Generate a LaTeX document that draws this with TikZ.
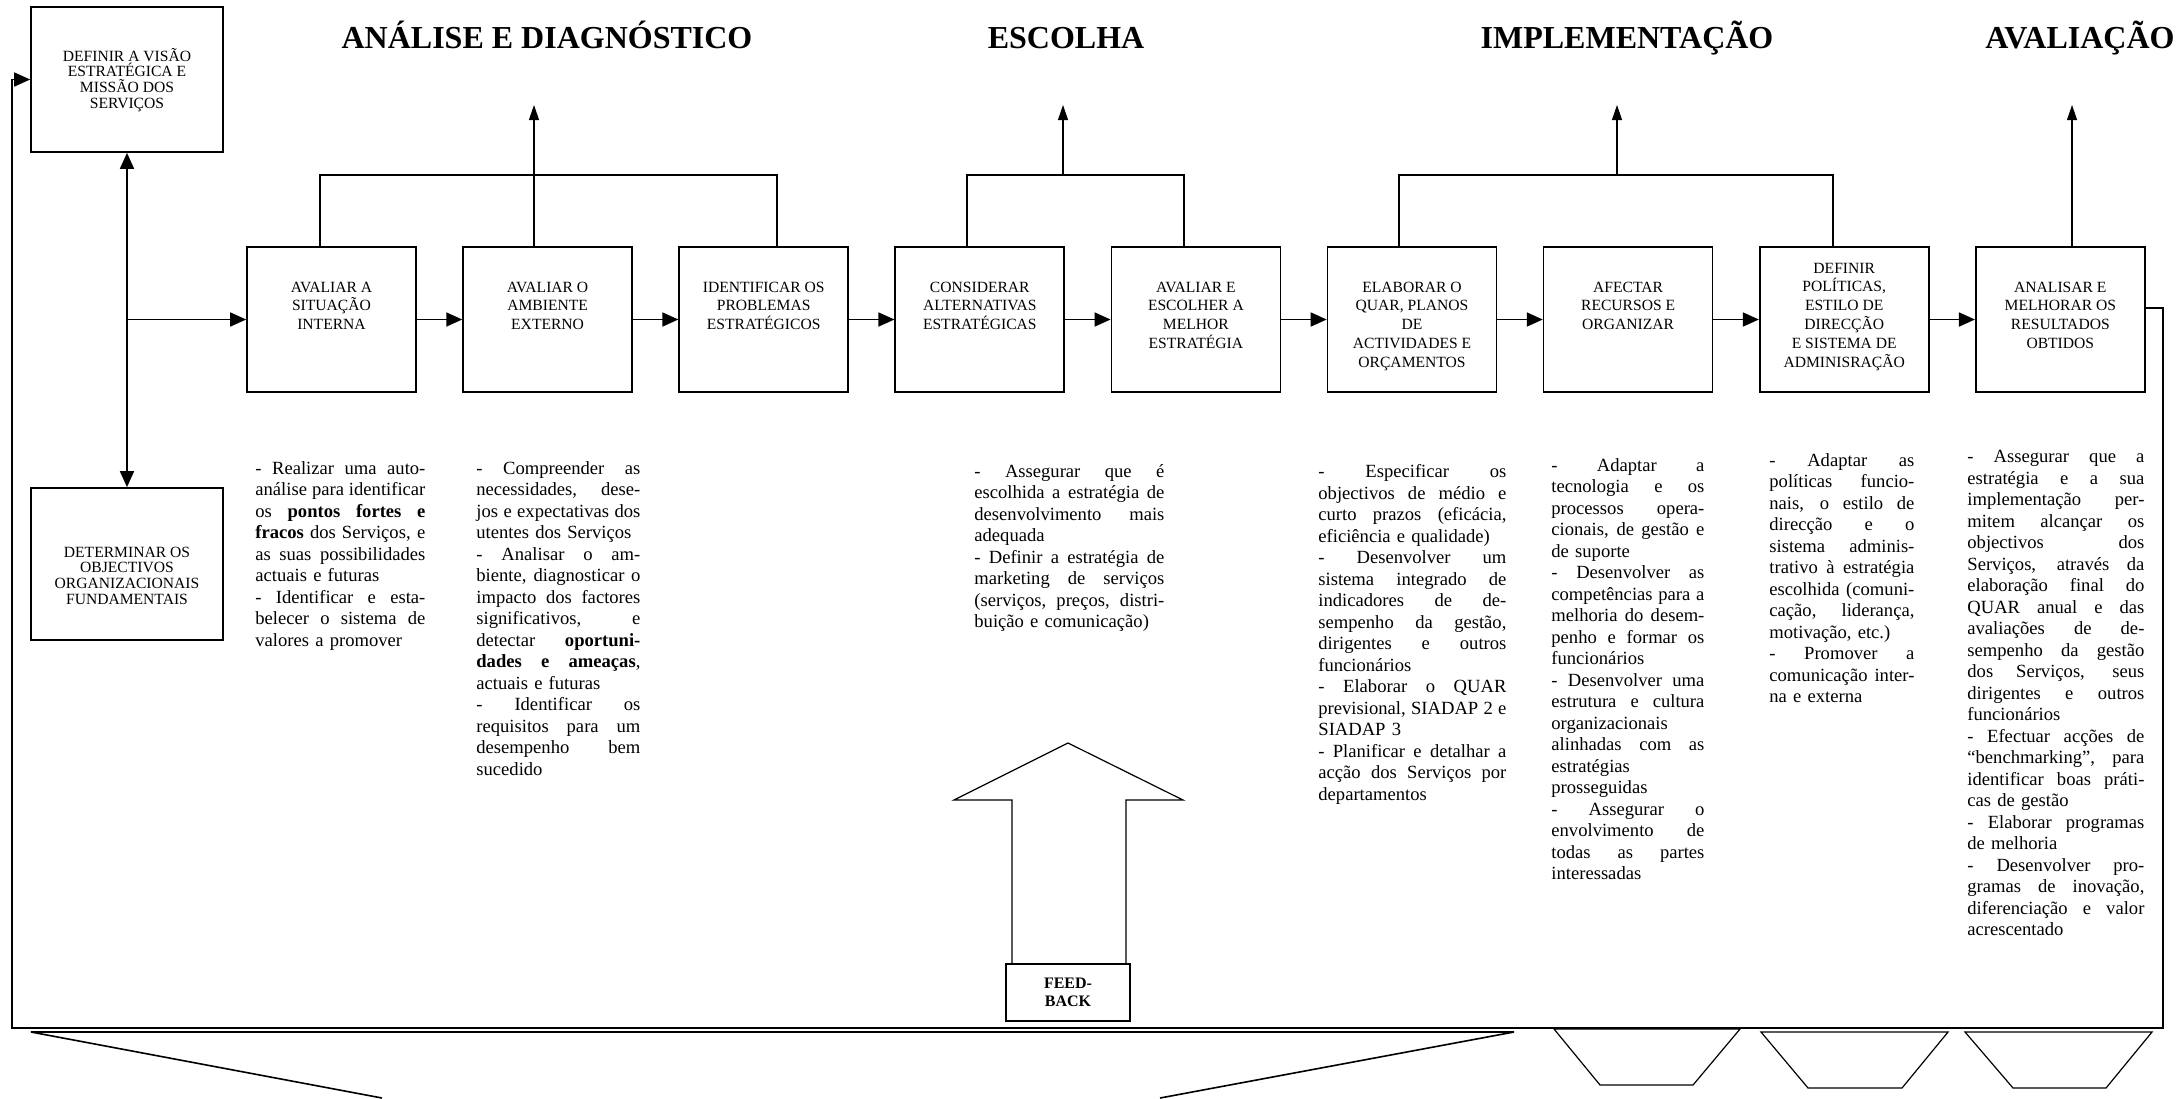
\documentclass[tikz,border=0pt]{standalone}
\usepackage{fontspec}
\setmainfont{Liberation Serif}
\usetikzlibrary{arrows.meta}
\setlength{\parindent}{0pt}
% one justified line / one last line of a paragraph
\newcommand{\jline}[1]{\hbox to\linewidth{\spaceskip=0.25em plus 1fil\xspaceskip=0.25em plus 1fil\relax #1}}
\newcommand{\eline}[1]{\hbox{#1}}
% box text: width, height, first baseline, text
\newcommand{\inbox}[4]{\parbox[c][#2][t]{#1}{\centering\rule{0pt}{#3}#4\par}}
\tikzset{
 stage/.style={draw,line width=0.85pt,inner sep=0pt,font=\fontsize{7.8}{9.4}\selectfont},
 aim/.style={draw,line width=0.85pt,inner sep=0pt,font=\fontsize{7.8}{7.9}\selectfont},
 col/.style={inner sep=0pt,anchor=north west,font=\fontsize{9.3}{10.75}\selectfont},
 phasetitle/.style={anchor=base,inner sep=0pt,font=\bfseries\fontsize{16}{19}\selectfont},
 arr/.style={line width=0.85pt,-{Triangle[length=8pt,width=7pt]}},
 uparr/.style={line width=0.55pt,-{Triangle[length=7.5pt,width=5pt]}},
 bracket/.style={line width=0.6pt}
}
\begin{document}
\begin{tikzpicture}[x=0.5pt,y=-0.5pt]
 \useasboundingbox (0,0) rectangle (2177,1098);
 % phases
 \node[phasetitle] (t1) at (547,48) {ANÁLISE E DIAGNÓSTICO};
 \node[phasetitle] (t2) at (1066,48) {ESCOLHA};
 \node[phasetitle] (t3) at (1627,48) {IMPLEMENTAÇÃO};
 \node[phasetitle] (t4) at (2080,48) {AVALIAÇÃO};
 % left boxes
 \node[aim] (visao) at (127,79.5) {\inbox{96pt}{72.5pt}{27pt}{DEFINIR A VISÃO\\ESTRATÉGICA E\\MISSÃO DOS\\SERVIÇOS}};
 \node[aim] (objectivos) at (127,564) {\inbox{96pt}{76pt}{34.5pt}{DETERMINAR OS\\OBJECTIVOS\\ORGANIZACIONAIS\\FUNDAMENTAIS}};
 % main row
 \node[stage] (b1) at (331.5,319.5) {\inbox{84.5pt}{72.5pt}{22.5pt}{AVALIAR A\\SITUAÇÃO\\INTERNA}};
 \node[stage] (b2) at (547.6,319.5) {\inbox{84.5pt}{72.5pt}{22.5pt}{AVALIAR O\\AMBIENTE\\EXTERNO}};
 \node[stage] (b3) at (763.7,319.5) {\inbox{84.5pt}{72.5pt}{22.5pt}{IDENTIFICAR OS\\PROBLEMAS\\ESTRATÉGICOS}};
 \node[stage] (b4) at (979.8,319.5) {\inbox{84.5pt}{72.5pt}{22.5pt}{CONSIDERAR\\ALTERNATIVAS\\ESTRATÉGICAS}};
 \node[stage] (b5) at (1195.9,319.5) {\inbox{84.5pt}{72.5pt}{22.5pt}{AVALIAR E\\ESCOLHER A\\MELHOR\\ESTRATÉGIA}};
 \node[stage] (b6) at (1412,319.5) {\inbox{84.5pt}{72.5pt}{22.5pt}{ELABORAR O\\QUAR, PLANOS\\DE\\ACTIVIDADES E\\ORÇAMENTOS}};
 \node[stage] (b7) at (1628.1,319.5) {\inbox{84.5pt}{72.5pt}{22.5pt}{AFECTAR\\RECURSOS E\\ORGANIZAR}};
 \node[stage] (b8) at (1844.2,319.5) {\inbox{84.5pt}{72.5pt}{13pt}{DEFINIR\\POLÍTICAS,\\ESTILO DE\\DIRECÇÃO\\E SISTEMA DE\\ADMINISRAÇÃO}};
 \node[stage] (b9) at (2060.3,319.5) {\inbox{84.5pt}{72.5pt}{22.5pt}{ANALISAR E\\MELHORAR OS\\RESULTADOS\\OBTIDOS}};
 % flow
 \draw[line width=0.85pt,{Triangle[length=8pt,width=7pt]}-{Triangle[length=8pt,width=7pt]}] (visao) -- (objectivos);
 \draw[arr] (visao.south |- b1.west) -- (b1.west);
 \draw[arr] (b1) -- (b2);
 \draw[arr] (b2) -- (b3);
 \draw[arr] (b3) -- (b4);
 \draw[arr] (b4) -- (b5);
 \draw[arr] (b5) -- (b6);
 \draw[arr] (b6) -- (b7);
 \draw[arr] (b7) -- (b8);
 \draw[arr] (b8) -- (b9);
 % brackets to the phases
 \coordinate (ad1) at (320,175);
 \coordinate (ad2) at (777,175);
 \coordinate (ad) at (534,105);
 \draw[bracket] (b1.north -| ad1) -- (ad1) -- (ad2) -- (b3.north -| ad2);
 \draw[uparr] (b2.north -| ad) -- (ad);
 \coordinate (es1) at (967,175);
 \coordinate (es2) at (1184,175);
 \coordinate (es) at (1063,105);
 \draw[bracket] (b4.north -| es1) -- (es1) -- (es2) -- (b5.north -| es2);
 \draw[uparr] (es |- es1) -- (es);
 \coordinate (im1) at (1399,175);
 \coordinate (im2) at (1833,175);
 \coordinate (im) at (1617,105);
 \draw[bracket] (b6.north -| im1) -- (im1) -- (im2) -- (b8.north -| im2);
 \draw[uparr] (im |- im1) -- (im);
 \coordinate (av) at (2072,105);
 \draw[uparr] (b9.north -| av) -- (av);
 % loop back
 \coordinate (loopr) at (2163,308);
 \coordinate (loopbr) at (2163,1028);
 \coordinate (loopbl) at (12,1028);
 \draw[arr] (b9.east |- loopr) -- (loopr) -- (loopbr) -- (loopbl) -- (loopbl |- visao.west) -- (visao.west);
 % feed-back
 \node[draw,line width=0.7pt,minimum width=62pt,minimum height=28.5pt,inner sep=0pt,align=center,font=\bfseries\fontsize{8}{9}\selectfont] (fb) at (1068,992.5) {FEED-\\BACK};
 \draw[line width=0.6pt] (1012,964) -- (1012,800) -- (954,800) -- (1068,743) -- (1183,800) -- (1126,800) -- (1126,964);
 % funnels
 \draw[line width=0.8pt] (382,1098) -- (31,1032) -- (1514,1032) -- (1160,1098);
 \draw[line width=0.6pt] (1554,1029) -- (1740,1029) -- (1693,1085) -- (1600,1085) -- cycle;
 \draw[line width=0.6pt] (1761,1032) -- (1948,1032) -- (1902,1088) -- (1808,1088) -- cycle;
 \draw[line width=0.6pt] (1965,1032) -- (2152,1032) -- (2106,1088) -- (2013,1088) -- cycle;
 % texts
 \node[col,text width=85pt] (n1) at (255,461) {%
  \jline{- Realizar uma auto-}
  \jline{análise para identificar}
  \jline{os \textbf{pontos fortes e}}
  \jline{\textbf{fracos} dos Serviços, e}
  \jline{as suas possibilidades}
  \eline{actuais e futuras}
  \jline{- Identificar e esta-}
  \jline{belecer o sistema de}
  \eline{valores a promover}};
 \node[col,text width=82pt] (n2) at (476,461) {%
  \jline{- Compreender as}
  \jline{necessidades, dese-}
  \jline{jos e expectativas dos}
  \eline{utentes dos Serviços}
  \jline{- Analisar o am-}
  \jline{biente, diagnosticar o}
  \jline{impacto dos factores}
  \jline{significativos, e}
  \jline{detectar \textbf{oportuni-}}
  \jline{\textbf{dades e ameaças},}
  \eline{actuais e futuras}
  \jline{- Identificar os}
  \jline{requisitos para um}
  \jline{desempenho bem}
  \eline{sucedido}};
 \node[col,text width=95pt] (n3) at (974,464) {%
  \jline{- Assegurar que é}
  \jline{escolhida a estratégia de}
  \jline{desenvolvimento mais}
  \eline{adequada}
  \jline{- Definir a estratégia de}
  \jline{marketing de serviços}
  \jline{(serviços, preços, distri-}
  \eline{buição e comunicação)}};
 \node[col,text width=94pt] (n4) at (1318,464) {%
  \jline{- Especificar os}
  \jline{objectivos de médio e}
  \jline{curto prazos (eficácia,}
  \eline{eficiência e qualidade)}
  \jline{- Desenvolver um}
  \jline{sistema integrado de}
  \jline{indicadores de de-}
  \jline{sempenho da gestão,}
  \jline{dirigentes e outros}
  \eline{funcionários}
  \jline{- Elaborar o QUAR}
  \jline{previsional, SIADAP 2 e}
  \eline{SIADAP 3}
  \jline{- Planificar e detalhar a}
  \jline{acção dos Serviços por}
  \eline{departamentos}};
 \node[col,text width=76.5pt] (n5) at (1551,458) {%
  \jline{- Adaptar a}
  \jline{tecnologia e os}
  \jline{processos opera-}
  \jline{cionais, de gestão e}
  \eline{de suporte}
  \jline{- Desenvolver as}
  \jline{competências para a}
  \jline{melhoria do desem-}
  \jline{penho e formar os}
  \eline{funcionários}
  \jline{- Desenvolver uma}
  \jline{estrutura e cultura}
  \eline{organizacionais}
  \jline{alinhadas com as}
  \eline{estratégias}
  \eline{prosseguidas}
  \jline{- Assegurar o}
  \jline{envolvimento de}
  \jline{todas as partes}
  \eline{interessadas}};
 \node[col,text width=72.5pt] (n6) at (1769,453) {%
  \jline{- Adaptar as}
  \jline{políticas funcio-}
  \jline{nais, o estilo de}
  \jline{direcção e o}
  \jline{sistema adminis-}
  \jline{trativo à estratégia}
  \jline{escolhida (comuni-}
  \jline{cação, liderança,}
  \eline{motivação, etc.)}
  \jline{- Promover a}
  \jline{comunicação inter-}
  \eline{na e externa}};
 \node[col,text width=88.5pt] (n7) at (1967,450) {%
  \jline{- Assegurar que a}
  \jline{estratégia e a sua}
  \jline{implementação per-}
  \jline{mitem alcançar os}
  \jline{objectivos dos}
  \jline{Serviços, através da}
  \jline{elaboração final do}
  \jline{QUAR anual e das}
  \jline{avaliações de de-}
  \jline{sempenho da gestão}
  \jline{dos Serviços, seus}
  \jline{dirigentes e outros}
  \eline{funcionários}
  \jline{- Efectuar acções de}
  \jline{“benchmarking”, para}
  \jline{identificar boas práti-}
  \eline{cas de gestão}
  \jline{- Elaborar programas}
  \eline{de melhoria}
  \jline{- Desenvolver pro-}
  \jline{gramas de inovação,}
  \jline{diferenciação e valor}
  \eline{acrescentado}};
\end{tikzpicture}
\end{document}
